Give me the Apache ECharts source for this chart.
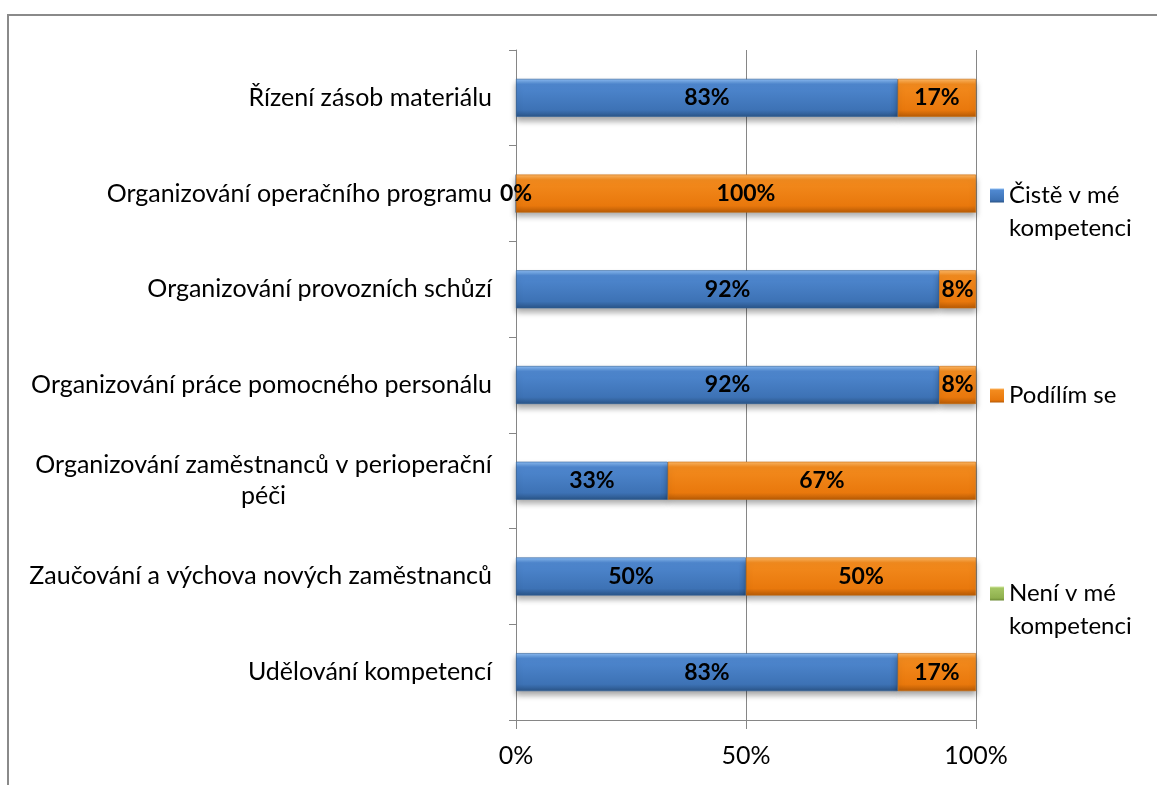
<!DOCTYPE html>
<html>
<head>
<meta charset="utf-8">
<script src="https://cdn.jsdelivr.net/npm/echarts@6/dist/echarts.min.js"></script>
<style>
  html, body { margin: 0; padding: 0; background: #fff; }
  #chart { width: 1157px; height: 785px; }
  #frame {
    position: absolute; left: 7px; top: 14px; right: -10px; bottom: -10px;
    border-left: 2px solid #8a8a8a; border-top: 2px solid #8a8a8a;
    pointer-events: none;
  }
</style>
</head>
<body>
<div id="chart"></div>
<div id="frame"></div>
<script>
// data
const categories = [
  'Řízení zásob materiálu',
  'Organizování operačního programu',
  'Organizování provozních schůzí',
  'Organizování práce pomocného personálu',
  'Organizování zaměstnanců v perioperační\npéči',
  'Zaučování a výchova nových zaměstnanců',
  'Udělování kompetencí'
];
const seriesNames = ['Čistě v mé kompetenci', 'Podílím se', 'Není v mé kompetenci'];
const legendLabels = ['Čistě v mé\nkompetenci', 'Podílím se', 'Není v mé\nkompetenci'];
const cisteValues = [83, 0, 92, 92, 33, 50, 83];
const podilimValues = [17, 100, 8, 8, 67, 50, 17];
const neniValues = [0, 0, 0, 0, 0, 0, 0];

const FONT = 'Lato, "Open Sans", sans-serif';
const FS = 25;

function measure(text, size, weight) {
  const ctx = document.createElement('canvas').getContext('2d');
  ctx.font = (weight || 'normal') + ' ' + size + 'px ' + FONT;
  return Math.ceil(ctx.measureText(text).width);
}

function grad(c0, c1, c2, c3, span) {
  const s = span || 1;
  return new echarts.graphic.LinearGradient(0, 0, 0, 1, [
    { offset: 0, color: c0 },
    { offset: 0.14 * s, color: c1 },
    { offset: 0.82 * s, color: c2 },
    { offset: 1 * s, color: c3 }
  ]);
}
const blueCols = ['#8cbcf2', '#4f88d0', '#3d72b5', '#2a5487'];
const orangeCols = ['#fdb866', '#f38b1e', '#e9780c', '#b65a05'];
const greenCols = ['#cfe59a', '#a4c563', '#8fb04e', '#6b8a33'];

// tall icon: square sits on top, so the first text line lines up with it
const ICON_W = 14, ICON_H = 47;
const tallIcon = 'path://M0,0H14V14H0Z M0,47L0.1,47';
const iconSpan = 14 / 47;

const chart = echarts.init(document.getElementById('chart'));

const labelStyle = {
  show: true, position: 'inside', color: '#000',
  fontFamily: FONT, fontSize: 23, fontWeight: 'bold',
  formatter: p => p.value + '%'
};
const barShadow = {
  shadowColor: 'rgba(0,0,0,0.35)', shadowBlur: 6, shadowOffsetY: 4
};

function legendFor(i, top, twoLines, cols) {
  return {
    orient: 'vertical', left: 990, top: top, padding: 0,
    selectedMode: false,
    itemWidth: ICON_W, itemHeight: twoLines ? ICON_H : ICON_W,
    formatter: name => legendLabels[seriesNames.indexOf(name)],
    textStyle: { fontFamily: FONT, fontSize: 24, color: '#000', lineHeight: 33 },
    data: [{
      name: seriesNames[i],
      icon: twoLines ? tallIcon : 'rect',
      itemStyle: {
        color: grad(cols[0], cols[1], cols[2], cols[3], twoLines ? iconSpan : 1),
        borderWidth: 0, shadowBlur: 0
      }
    }]
  };
}

const longLine = categories[4].split('\n')[0];
const longW = measure(longLine, FS);

const option = {
  animation: false,
  grid: { left: 516, right: 181, top: 50, bottom: 65, containLabel: false },
  legend: [
    legendFor(0, 179, true, blueCols),
    legendFor(1, 379, false, orangeCols),
    legendFor(2, 577, true, greenCols)
  ],
  xAxis: {
    type: 'value', min: 0, max: 100, interval: 50,
    axisLine: { show: true, lineStyle: { color: '#868686', width: 1 } },
    axisTick: { show: true, length: 9, lineStyle: { color: '#868686' } },
    splitLine: { show: true, lineStyle: { color: '#868686', width: 1 } },
    axisLabel: {
      color: '#000', fontFamily: FONT, fontSize: FS, margin: 23,
      formatter: v => v + '%'
    }
  },
  yAxis: {
    type: 'category', inverse: true, data: categories,
    axisLine: { show: true, lineStyle: { color: '#868686', width: 1 } },
    axisTick: { show: true, length: 7, lineStyle: { color: '#868686' } },
    axisLabel: {
      color: '#000', fontFamily: FONT, fontSize: FS, margin: 24, lineHeight: 31,
      formatter: v => {
        if (v.indexOf('\n') < 0) return v;
        return v.split('\n').map(s => '{c|' + s + '}').join('\n');
      },
      rich: {
        c: { width: longW, align: 'center', fontFamily: FONT, fontSize: FS, color: '#000', lineHeight: 31 }
      }
    }
  },
  series: [
    {
      name: seriesNames[0], type: 'bar', stack: 'all', barWidth: 38,
      data: cisteValues,
      itemStyle: Object.assign({ color: grad(...blueCols), borderColor: '#2f5f99', borderWidth: 0.6 }, barShadow),
      label: labelStyle
    },
    {
      name: seriesNames[1], type: 'bar', stack: 'all', barWidth: 38,
      data: podilimValues,
      itemStyle: Object.assign({ color: grad(...orangeCols), borderColor: '#c86a0a', borderWidth: 0.6 }, barShadow),
      label: labelStyle
    },
    {
      name: seriesNames[2], type: 'bar', stack: 'all', barWidth: 38,
      data: neniValues,
      itemStyle: { color: grad(...greenCols) },
      label: { show: false }
    }
  ]
};

chart.setOption(option);
</script>
</body>
</html>
